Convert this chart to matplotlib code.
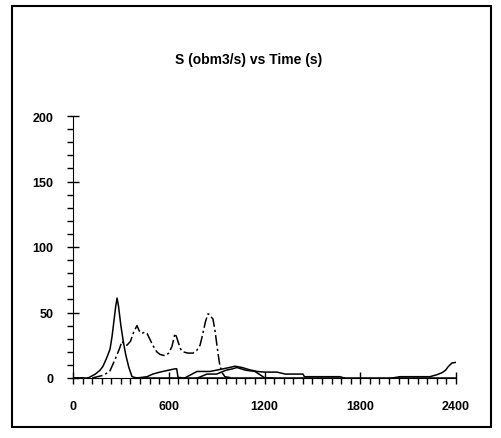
import matplotlib.pyplot as plt
from matplotlib.patches import Rectangle
from matplotlib.ticker import MultipleLocator

plt.rcParams['font.family'] = ['Liberation Sans', 'DejaVu Sans']

# series: time (s), S (obm3/s)
t_a = [0, 95, 140, 170, 188, 210, 232, 245, 258, 268, 276, 285, 300, 315, 330, 350, 370, 400, 2400]
s_a = [0, 0, 3, 6, 9, 15, 22, 32, 45, 55, 61, 55, 40, 28, 18, 8, 1, 0, 0]

t_b = [0, 120, 188, 230, 263, 290, 307, 320, 338, 360, 380, 401, 415, 432, 448, 464, 480,
       500, 525, 545, 576, 600, 620, 639, 650, 660, 675, 689, 720, 752, 775, 796,
       812, 830, 846, 860, 870, 877, 890, 902, 912, 921, 935, 952, 1000]
s_b = [0, 0, 2, 5, 14, 22, 28, 26, 25, 28, 35, 40, 36, 34, 35, 34, 30,
       25, 20, 18, 17, 19, 24, 34, 31, 27, 22, 20, 19, 19, 21, 25,
       33, 43, 49, 48, 46, 45, 36, 25, 16, 9, 4, 1, 0]

t_c = [400, 464, 500, 545, 600, 639, 650, 658, 700]
s_c = [0, 1, 3, 4.5, 6, 7, 7, 0.5, 0]

t_d = [700, 777, 858, 900, 940, 980, 1015, 1060, 1100, 1153, 1200, 1278, 1330, 1441, 1450, 1673, 1700]
s_d = [0, 5, 5, 6, 7, 8, 9, 8, 6.5, 5, 4.5, 4.5, 3, 3, 1, 1, 0]

t_e = [780, 840, 900, 960, 1000, 1027, 1080, 1140, 1203, 1250]
s_e = [0, 3, 3, 6, 7, 8, 6, 5, 0, 0]

t_f = [2000, 2049, 2237, 2280, 2312, 2335, 2350, 2375, 2406]
s_f = [0, 1, 1, 2.5, 4, 6, 8.5, 11.5, 12]

x_ticks = [0, 600, 1200, 1800, 2400]
y_ticks = [0, 50, 100, 150, 200]

fig = plt.figure(figsize=(5.01, 4.39), dpi=100)
fig.patches.append(Rectangle((12 / 501, 1 - 428 / 439), 479 / 501, 421 / 439,
                             transform=fig.transFigure, fill=False,
                             edgecolor='black', linewidth=1.5))

ax = fig.add_axes([73 / 501, 60 / 439, 383 / 501, 262 / 439])
lw = 1.1
ax.plot(t_a, s_a, color='black', lw=lw)
ax.plot(t_b, s_b, color='black', lw=lw, linestyle=(0, (7, 2, 1.5, 2)))
ax.plot(t_c, s_c, color='black', lw=lw)
ax.plot(t_d, s_d, color='black', lw=lw)
ax.plot(t_e, s_e, color='black', lw=lw)
ax.plot(t_f, s_f, color='black', lw=lw)

ax.set_xlim(0, 2400)
ax.set_ylim(0, 200)
ax.set_xticks(x_ticks)
ax.set_yticks(y_ticks)
ax.xaxis.set_minor_locator(MultipleLocator(60))
ax.yaxis.set_minor_locator(MultipleLocator(10))
ax.spines['top'].set_visible(False)
ax.spines['right'].set_visible(False)
ax.tick_params(axis='both', which='major', direction='inout', length=8, width=1,
               labelsize=9)
ax.tick_params(axis='both', which='minor', direction='out', length=4, width=1)
ax.tick_params(axis='x', which='major', pad=12)
ax.tick_params(axis='y', which='major', pad=10)
for lab in ax.get_xticklabels() + ax.get_yticklabels():
    lab.set_fontweight('bold')

fig.text(249 / 501, 1 - 60 / 439, 'S (obm3/s) vs Time (s)', ha='center',
         va='center', fontsize=10, fontweight='bold')

fig.savefig('out.png', dpi=100)
